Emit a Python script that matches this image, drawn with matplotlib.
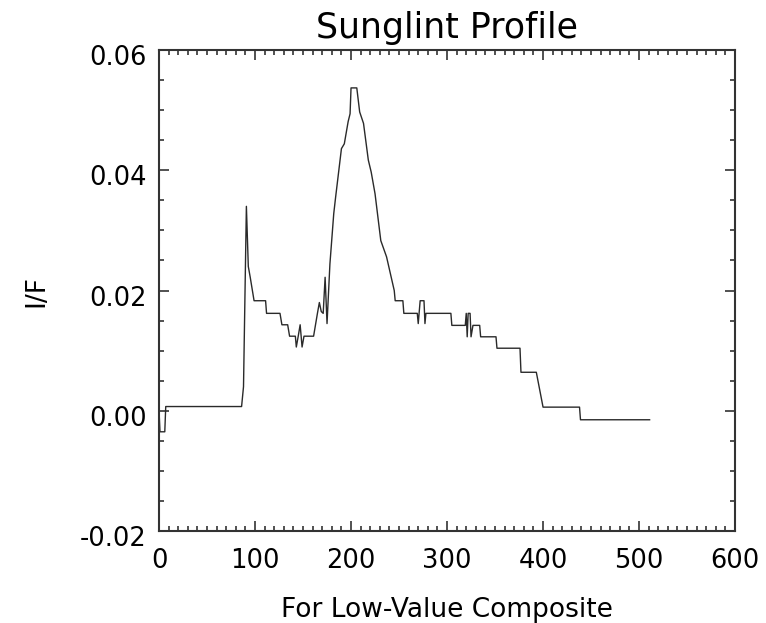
import matplotlib
matplotlib.use('Agg')
import matplotlib.pyplot as plt
from matplotlib.ticker import MultipleLocator, FormatStrFormatter
from matplotlib.transforms import ScaledTranslation

# profile vertices (pixel column, I/F)
col = [0, 1, 6, 7, 86, 88, 91, 93, 95, 99, 111, 112, 126, 128, 134, 136,
       142, 143, 145, 147, 149, 151, 161, 163, 165, 167, 169, 171, 173, 175,
       178, 182, 184, 190, 193, 197, 199, 200, 206, 209, 213, 218, 221, 225,
       231, 237, 245, 246, 254, 255, 269, 270, 272, 276, 277, 278, 304, 305,
       319, 320, 321, 322, 324, 325, 327, 334, 335, 351, 352, 376, 377, 393,
       400, 438, 439, 511]
i_f = [0.0000, -0.0035, -0.0035, 0.0007, 0.0007, 0.0040, 0.0340, 0.0240,
       0.0222, 0.0183, 0.0183, 0.0162, 0.0162, 0.0143, 0.0143, 0.0124,
       0.0124, 0.0106, 0.0124, 0.0143, 0.0106, 0.0124, 0.0124, 0.0143,
       0.0162, 0.0180, 0.0165, 0.0162, 0.0222, 0.0145, 0.0244, 0.0328,
       0.0356, 0.0436, 0.0444, 0.0481, 0.0494, 0.0537, 0.0537, 0.0497,
       0.0478, 0.0417, 0.0397, 0.0361, 0.0283, 0.0256, 0.0200, 0.0183,
       0.0183, 0.0162, 0.0162, 0.0145, 0.0183, 0.0183, 0.0145, 0.0162,
       0.0162, 0.0142, 0.0142, 0.0162, 0.0123, 0.0162, 0.0162, 0.0123,
       0.0142, 0.0142, 0.0123, 0.0123, 0.0104, 0.0104, 0.0064, 0.0064,
       0.0006, 0.0006, -0.0015, -0.0015]

plt.rcParams['axes.unicode_minus'] = False
plt.rcParams['font.family'] = ['DejaVu Sans']

fig = plt.figure(figsize=(7.66, 6.23), dpi=100)
ax = fig.add_axes([0.2076, 0.1477, 0.752, 0.772])

ax.plot(col, i_f, color='#2a2a2a', lw=1.0)

ax.set_xlim(0, 600)
ax.set_ylim(-0.02, 0.06)
ax.xaxis.set_major_locator(MultipleLocator(100))
ax.xaxis.set_minor_locator(MultipleLocator(10))
ax.yaxis.set_major_locator(MultipleLocator(0.02))
ax.yaxis.set_minor_locator(MultipleLocator(0.005))
ax.yaxis.set_major_formatter(FormatStrFormatter('%.2f'))

ax.tick_params(which='both', direction='in', top=True, right=True,
               color='#333333', width=1.2)
ax.tick_params(which='major', length=7)
ax.tick_params(which='minor', length=3.5)
ax.tick_params(axis='x', labelsize=18.5, pad=12)
ax.tick_params(axis='y', labelsize=18.5, pad=9)
for s in ax.spines.values():
    s.set_linewidth(1.5)
    s.set_color('#333333')

# IDL puts the y labels a little below their ticks
shift = ScaledTranslation(0, -0.05, fig.dpi_scale_trans)
for lab in ax.get_yticklabels():
    lab.set_transform(lab.get_transform() + shift)

ax.set_title('Sunglint Profile', fontsize=25, pad=9)
ax.set_xlabel('For Low-Value Composite', fontsize=19, labelpad=17)
ax.set_ylabel('I/F', fontsize=19, labelpad=22)

fig.savefig('out.png', dpi=100)
